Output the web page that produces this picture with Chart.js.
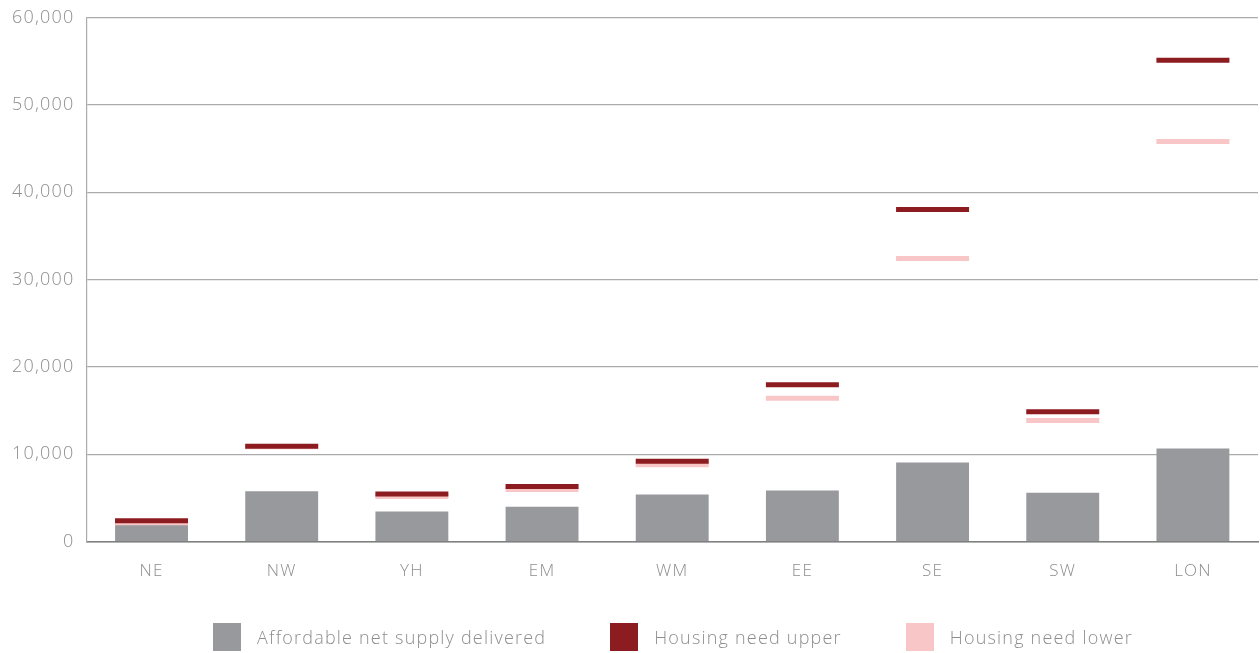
<!DOCTYPE html>
<html>
<head>
<meta charset="utf-8">
<script src="https://cdn.jsdelivr.net/npm/chart.js@4"></script>
<style>
  html, body { margin: 0; padding: 0; background: #fff; overflow: hidden; }
  #wrap { position: relative; width: 1260px; height: 653px; }
  canvas { display: block; }
  #legend {
    position: absolute; left: 88px; right: 2px; top: 623px;
    display: flex; justify-content: center; gap: 64px;
    font-family: "Open Sans", Lato, sans-serif; font-weight: 300; font-size: 18px;
    letter-spacing: 1.2px; color: #8e8e8e;
  }
  #legend .item { display: flex; align-items: center; }
  #legend .box { width: 28px; height: 28px; margin-right: 16px; }
</style>
</head>
<body>
<div id="wrap">
  <canvas id="chart" width="1260" height="653"></canvas>
  <div id="legend"></div>
</div>
<script>
const regions = ['NE', 'NW', 'YH', 'EM', 'WM', 'EE', 'SE', 'SW', 'LON'];
const supplyDelivered = [2050, 5750, 3450, 4000, 5400, 5850, 9050, 5600, 10650];
const needUpper = [2400, 10900, 5450, 6300, 9200, 17950, 38000, 14850, 55100];
const needLower = [2150, 10850, 5150, 5950, 8800, 16400, 32400, 13850, 45800];
const yTicks = [0, 10000, 20000, 30000, 40000, 50000, 60000];

const grey = '#98999d';
const darkRed = '#8c1c1f';
const pink = '#f8c6c6';
const textColor = '#8e8e8e';
const fontFamily = '"Open Sans", Lato, sans-serif';

const legendItems = [
    { text: 'Affordable net supply delivered', color: grey },
    { text: 'Housing need upper', color: darkRed },
    { text: 'Housing need lower', color: pink }
];

// wider text to get closer to the original geometric font
const spacing = {
    id: 'spacing',
    beforeLayout(chart) { chart.ctx.letterSpacing = '1.2px'; },
    beforeDraw(chart) { chart.ctx.letterSpacing = '1.2px'; }
};

const ctx = document.getElementById('chart').getContext('2d');
const chart = new Chart(ctx, {
    type: 'bar',
    plugins: [spacing],
    data: {
        labels: regions,
        datasets: [
            {
                type: 'line',
                label: 'Housing need upper',
                data: needUpper,
                showLine: false,
                pointStyle: 'line',
                pointRadius: 36.5,
                pointHoverRadius: 36.5,
                borderColor: darkRed,
                backgroundColor: darkRed,
                pointBorderWidth: 5,
                order: 1
            },
            {
                type: 'line',
                label: 'Housing need lower',
                data: needLower,
                showLine: false,
                pointStyle: 'line',
                pointRadius: 36.5,
                pointHoverRadius: 36.5,
                borderColor: pink,
                backgroundColor: pink,
                pointBorderWidth: 5,
                order: 2
            },
            {
                label: 'Affordable net supply delivered',
                data: supplyDelivered,
                backgroundColor: grey,
                categoryPercentage: 1,
                barPercentage: 0.56,
                order: 3
            }
        ]
    },
    options: {
        responsive: false,
        animation: false,
        layout: {
            autoPadding: false,
            padding: { top: 0, right: 2, left: 0, bottom: 61 }
        },
        plugins: {
            tooltip: { enabled: false },
            legend: { display: false }
        },
        scales: {
            x: {
                grid: { display: false },
                border: { color: '#7f7f7f', width: 1.5 },
                ticks: {
                    color: textColor,
                    font: { family: fontFamily, size: 17, weight: 300 },
                    padding: 11
                }
            },
            y: {
                min: 0,
                max: 60000,
                afterBuildTicks: function(axis) {
                    axis.ticks = yTicks.map(v => ({ value: v }));
                },
                grid: {
                    color: '#ababab',
                    lineWidth: 1.2,
                    drawTicks: false
                },
                border: { color: '#ababab', width: 1.2 },
                ticks: {
                    color: textColor,
                    font: { family: fontFamily, size: 18, weight: 300, lineHeight: 0.6 },
                    padding: 12,
                    callback: function(value) {
                        return value.toLocaleString('en-GB');
                    }
                }
            }
        }
    }
});

const legendEl = document.getElementById('legend');
legendItems.forEach(item => {
    const div = document.createElement('div');
    div.className = 'item';
    div.innerHTML = '<span class="box" style="background:' + item.color + '"></span><span>' + item.text + '</span>';
    legendEl.appendChild(div);
});
</script>
</body>
</html>
